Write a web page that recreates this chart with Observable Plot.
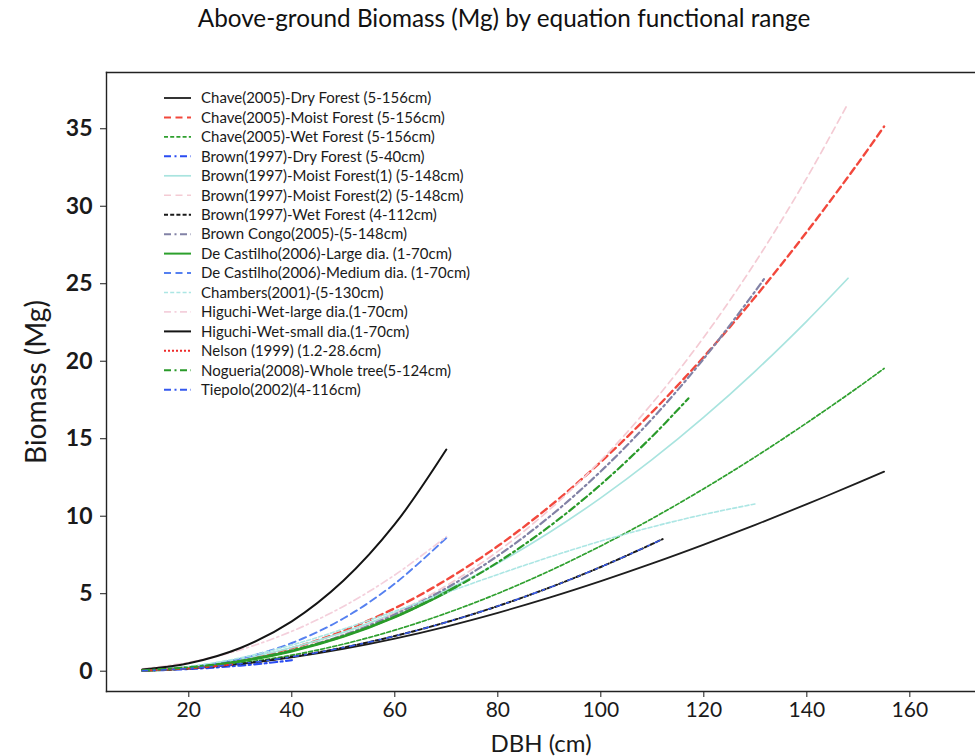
<!DOCTYPE html>
<html><head><meta charset="utf-8">
<script src="https://cdn.jsdelivr.net/npm/d3@7"></script>
<script src="https://cdn.jsdelivr.net/npm/@observablehq/plot@0.6"></script>
<style>
body{margin:0;background:#fff;font-family:Lato,sans-serif;}
#title{box-sizing:border-box;width:975px;height:40px;line-height:36px;font-size:24.3px;color:#111;text-align:center;padding-left:33px;}
#chart svg{display:block;}
</style></head><body>
<div id="title">Above-ground Biomass (Mg) by equation functional range</div>
<div id="chart"></div>
<script>
// ---- data (DBH in cm, biomass in Mg) ----
const xTicks = [20, 40, 60, 80, 100, 120, 140, 160];
const yTicks = [0, 5, 10, 15, 20, 25, 30, 35];

const chaveDbh = [11,20,30,40,50,60,70,80,90,100,110,120,130,140,150,155];
const chaveDryAgb = [0.049,0.191,0.475,0.891,1.437,2.103,2.883,3.767,4.744,5.809,6.951,8.164,9.440,10.779,12.166,12.881];
const chaveMoistAgb = [0.051,0.247,0.712,1.485,2.597,4.064,5.892,8.072,10.615,13.508,16.734,20.288,24.158,28.349,32.801,35.147];
const chaveWetAgb = [0.044,0.194,0.522,1.037,1.745,2.648,3.741,5.014,6.466,8.081,9.853,11.776,13.830,16.023,18.328,19.532];

const brownDryDbh = [11,15,20,25,30,35,40];
const brownDryAgb = [0.035,0.073,0.142,0.238,0.363,0.519,0.708];

const brownMoistDbh = [11,20,30,40,50,60,70,80,90,100,110,120,130,140,148];
const brownMoist1Agb = [0.052,0.284,0.777,1.518,2.508,3.746,5.232,6.968,8.951,11.183,13.663,16.392,19.369,22.594,25.353];
const brownMoist2Agb = [0.051,0.232,0.646,1.338,2.353,3.732,5.517,7.728,10.414,13.595,17.299,21.550,26.390,31.830,36.640];

const brownWetDbh = [11,20,30,40,50,60,70,80,90,100,110,112];
const brownWetAgb = [0.034,0.178,0.479,0.927,1.524,2.268,3.161,4.201,5.390,6.726,8.211,8.525];

const congoDbh = [11,20,30,40,50,60,70,80,90,100,110,120,130,132];
const congoAgb = [0.052,0.235,0.651,1.336,2.327,3.659,5.357,7.448,9.957,12.899,16.295,20.167,24.525,25.460];

const castilhoLargeDbh = [11,20,30,40,50,60,70,72];
const castilhoLargeAgb = [0.055,0.237,0.640,1.300,2.240,3.500,5.100,5.460];
const castilhoMediumDbh = [11,20,30,40,50,60,70];
const castilhoMediumAgb = [0.049,0.261,0.810,1.820,3.400,5.650,8.600];

const chambersDbh = [11,20,30,40,50,60,70,80,90,100,110,120,130];
const chambersAgb = [0.061,0.305,0.859,1.687,2.717,3.869,5.065,6.243,7.362,8.396,9.312,10.113,10.797];

const higuchiDbh = [11,20,30,40,50,60,70];
const higuchiLargeAgb = [0.156,0.572,1.380,2.576,4.180,6.208,8.675];
const higuchiSmallAgb = [0.103,0.508,1.496,3.220,5.834,9.483,14.300];

const nelsonDbh = [11,15,20,25,28.6];
const nelsonAgb = [0.044,0.093,0.187,0.320,0.443];

const nogueiraDbh = [11,20,30,40,50,60,70,80,90,100,110,117];
const nogueiraAgb = [0.059,0.248,0.659,1.320,2.261,3.510,5.092,7.029,9.339,12.044,15.159,17.600];

const tiepoloDbh = [11,20,30,40,50,60,70,80,90,100,110,112];
const tiepoloAgb = [0.034,0.178,0.479,0.927,1.524,2.268,3.161,4.201,5.390,6.726,8.211,8.525];

const labels = [
  "Chave(2005)-Dry Forest (5-156cm)",
  "Chave(2005)-Moist Forest (5-156cm)",
  "Chave(2005)-Wet Forest (5-156cm)",
  "Brown(1997)-Dry Forest (5-40cm)",
  "Brown(1997)-Moist Forest(1) (5-148cm)",
  "Brown(1997)-Moist Forest(2) (5-148cm)",
  "Brown(1997)-Wet Forest (4-112cm)",
  "Brown Congo(2005)-(5-148cm)",
  "De Castilho(2006)-Large dia. (1-70cm)",
  "De Castilho(2006)-Medium dia. (1-70cm)",
  "Chambers(2001)-(5-130cm)",
  "Higuchi-Wet-large dia.(1-70cm)",
  "Higuchi-Wet-small dia.(1-70cm)",
  "Nelson (1999) (1.2-28.6cm)",
  "Nogueria(2008)-Whole tree(5-124cm)",
  "Tiepolo(2002)(4-116cm)"
];

// styles
const DASH = "7,4.5", SDASH = "4,2.2", DDOT = "7,3.5,2,3.5", DOT = "2,2";
const series = [
  {x: chaveDbh, y: chaveDryAgb, stroke: "#1e1e1e", w: 1.8, dash: null},
  {x: chaveDbh, y: chaveMoistAgb, stroke: "#f2483c", w: 2.4, dash: DASH},
  {x: chaveDbh, y: chaveWetAgb, stroke: "#2fa02f", w: 1.7, dash: SDASH},
  {x: brownDryDbh, y: brownDryAgb, stroke: "#2a4cf2", w: 2.2, dash: DDOT},
  {x: brownMoistDbh, y: brownMoist1Agb, stroke: "#a9e4df", w: 1.7, dash: null},
  {x: brownMoistDbh, y: brownMoist2Agb, stroke: "#f4cbd4", w: 1.7, dash: DASH},
  {x: brownWetDbh, y: brownWetAgb, stroke: "#1a1a1a", w: 2.0, dash: SDASH},
  {x: congoDbh, y: congoAgb, stroke: "#8282a6", w: 2.2, dash: DDOT},
  {x: castilhoLargeDbh, y: castilhoLargeAgb, stroke: "#2ca02c", w: 2.8, dash: null},
  {x: castilhoMediumDbh, y: castilhoMediumAgb, stroke: "#5580f0", w: 1.9, dash: DASH},
  {x: chambersDbh, y: chambersAgb, stroke: "#ace6e4", w: 1.6, dash: SDASH},
  {x: higuchiDbh, y: higuchiLargeAgb, stroke: "#f4d0dc", w: 1.7, dash: DDOT},
  {x: higuchiDbh, y: higuchiSmallAgb, stroke: "#141414", w: 2.0, dash: null},
  {x: nelsonDbh, y: nelsonAgb, stroke: "#ee2a2a", w: 2.0, dash: DOT},
  {x: nogueiraDbh, y: nogueiraAgb, stroke: "#2a9a2a", w: 2.2, dash: DDOT},
  {x: tiepoloDbh, y: tiepoloAgb, stroke: "#3559ee", w: 1.5, dash: "5,6,2,6", legendDash: DDOT, legendW: 2}
];

const lineMarks = series.map((s, i) =>
  Plot.line(s.x.map((d, j) => ({dbh: d, agb: s.y[j], name: labels[i]})), {
    x: "dbh", y: "agb", stroke: s.stroke, strokeWidth: s.w,
    strokeDasharray: s.dash || undefined, curve: "catmull-rom"
  })
);

const W = 975, H = 716;
const plot = Plot.plot({
  width: W, height: H,
  marginLeft: 106, marginRight: 0, marginTop: 32, marginBottom: 65,
  style: {fontFamily: "Lato, sans-serif", fontSize: "20px", color: "#1a1a1a", background: "#fff"},
  x: {domain: [4.02, 172.75]},
  y: {domain: [-1.31, 38.63]},
  marks: [
    Plot.axisX({ticks: xTicks, tickSize: 6, tickPadding: 5, tickFormat: d => d, label: null, fontSize: 21}),
    Plot.axisX({ticks: [], label: "DBH (cm)", labelAnchor: "center", labelArrow: "none", labelOffset: 60, fontSize: 24}),
    Plot.axisY({ticks: yTicks, tickSize: 6, tickPadding: 8, tickFormat: d => d, label: null, fontSize: 23, fontWeight: "bold"}),
    Plot.axisY({ticks: [], label: "Biomass (Mg)", labelAnchor: "center", labelArrow: "none", labelOffset: 80, fontSize: 28}),
    ...lineMarks,
    Plot.frame({anchor: "left", stroke: "#222", strokeWidth: 1.4}),
    Plot.frame({anchor: "top", stroke: "#222", strokeWidth: 1.4}),
    Plot.frame({anchor: "bottom", stroke: "#222", strokeWidth: 1.4})
  ]
});
document.getElementById("chart").appendChild(plot);

// legend inside the axes (upper-left)
const svg = d3.select(plot);
const lg = svg.append("g").attr("font-family", "Lato, sans-serif").attr("font-size", 15)
  .attr("fill", "#1a1a1a").attr("text-anchor", "start");
const rowH = 19.45, top0 = 58;
series.forEach((s, i) => {
  const y = top0 + i * rowH;
  lg.append("line").attr("x1", 164).attr("x2", 191).attr("y1", y).attr("y2", y)
    .attr("stroke", s.stroke).attr("stroke-width", s.legendW || Math.min(s.w, 2))
    .attr("stroke-dasharray", s.legendDash || s.dash || null);
  lg.append("text").attr("x", 201).attr("y", y).attr("dy", "0.35em").attr("text-anchor", "start").text(labels[i]);
});
</script></body></html>
